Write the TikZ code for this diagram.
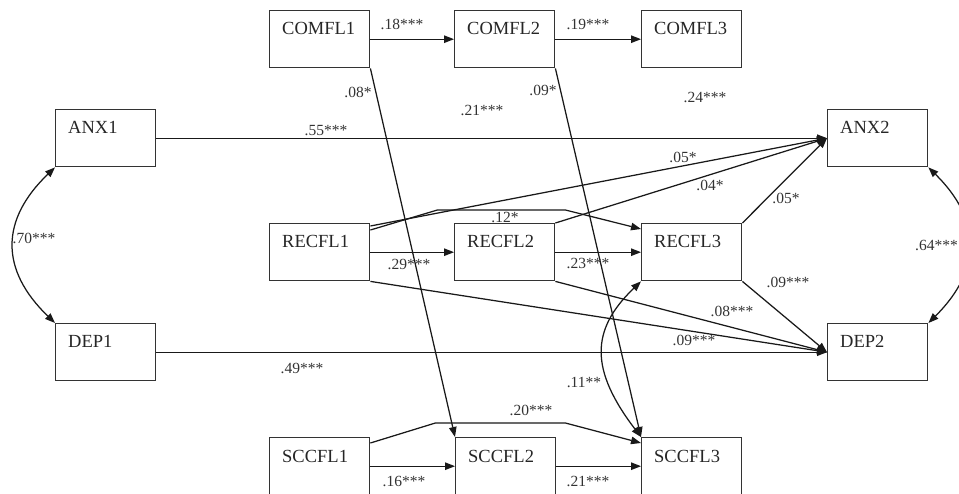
\documentclass[tikz,border=0pt]{standalone}
\usepackage{fontspec}
\setmainfont{Liberation Serif}
\usetikzlibrary{arrows.meta}
\newcommand\pbox[4]{\node[box] (#1) at (#2,#3) {};
  \node[lbl] (#1t) at ([shift={(13,25)}]#1.north west) {#4};}
\begin{document}
\begin{tikzpicture}[x=1pt,y=-1pt,
  box/.style={draw=black!80, line width=1.4pt, minimum width=100pt, minimum height=57pt, inner sep=0pt, anchor=north west},
  lbl/.style={font=\fontsize{18.5}{18.5}\selectfont, anchor=base west, inner sep=0pt, text=black!85},
  coef/.style={font=\fontsize{15.5}{15.5}\selectfont, inner sep=0pt, text=black!80},
  ln/.style={line width=1.25pt, draw=black!90},
  arr/.style={ln, -{Triangle[length=10pt,width=7.5pt]}},
  biarr/.style={ln, {Triangle[length=10pt,width=7.5pt]}-{Triangle[length=10pt,width=7.5pt]}}
]
\useasboundingbox (0,0) rectangle (959,494);
\pbox{comfl1}{269}{10}{COMFL1}
\pbox{comfl2}{454}{10}{COMFL2}
\pbox{comfl3}{641}{10}{COMFL3}
\pbox{anx1}{55}{109}{ANX1}
\pbox{anx2}{827}{109}{ANX2}
\pbox{recfl1}{269}{223}{RECFL1}
\pbox{recfl2}{454}{223}{RECFL2}
\pbox{recfl3}{641}{223}{RECFL3}
\pbox{dep1}{55}{323}{DEP1}
\pbox{dep2}{827}{323}{DEP2}
\pbox{sccfl1}{269}{437}{SCCFL1}
\pbox{sccfl2}{455}{437}{SCCFL2}
\pbox{sccfl3}{641}{437}{SCCFL3}

% connectors
\draw[arr] (comfl1.east) -- (comfl2.west);
\draw[arr] (comfl2.east) -- (comfl3.west);
\draw[arr] (comfl1.south east) -- (sccfl2.north west);
\draw[arr] (comfl2.south east) -- (sccfl3.north west);
\draw[arr] (anx1.east) -- (anx2.west);
\draw[arr] ([yshift=-3pt]recfl1.north east) -- (anx2.west);
\draw[arr] ([yshift=-7pt]recfl1.north east) -- ++(67,-20) -- ++(128,0) -- ([yshift=-6pt]recfl3.north west);
\draw[arr] (recfl2.north east) -- (anx2.west);
\draw[arr] (recfl3.north east) -- (anx2.west);
\draw[arr] (recfl1.east) -- (recfl2.west);
\draw[arr] (recfl2.east) -- (recfl3.west);
\draw[arr] (recfl1.south east) -- (dep2.west);
\draw[arr] (recfl2.south east) -- (dep2.west);
\draw[arr] (recfl3.south east) -- (dep2.west);
\draw[arr] (dep1.east) -- (dep2.west);
\draw[arr] (sccfl1.east) -- (sccfl2.west);
\draw[arr] (sccfl2.east) -- (sccfl3.west);
\draw[arr] ([yshift=-6pt]sccfl1.north east) -- ++(65,-20) -- ++(130,0) -- ([yshift=-6pt]sccfl3.north west);
\draw[biarr] (sccfl3.north west) .. controls (590,370) and (590,330) .. (recfl3.south west);
\draw[biarr] (anx1.south west) .. controls (0,220) and (0,270) .. (dep1.north west);
\draw[biarr] (anx2.south east) .. controls (982,220) and (982,270) .. (dep2.north east);

% coefficients
\node[coef] (c1) at (402,24) {.18***};
\node[coef] (c2) at (588,24) {.19***};
\node[coef] (c3) at (358,92) {.08*};
\node[coef] (c4) at (543,90) {.09*};
\node[coef] (c5) at (482,110) {.21***};
\node[coef] (c6) at (705,97) {.24***};
\node[coef] (c7) at (326,131) {.55***};
\node[coef] (c8) at (683,157) {.05*};
\node[coef] (c9) at (710,185) {.04*};
\node[coef] (c10) at (786,198) {.05*};
\node[coef] (c11) at (505,217) {.12*};
\node[coef] (c12) at (409,264) {.29***};
\node[coef] (c13) at (588,263) {.23***};
\node[coef] (c14) at (788,282) {.09***};
\node[coef] (c15) at (732,311) {.08***};
\node[coef] (c16) at (694,340) {.09***};
\node[coef] (c17) at (302,368) {.49***};
\node[coef] (c18) at (34,238) {.70***};
\node[coef,anchor=east] (c19) at (958,245) {.64***};
\node[coef] (c20) at (584,382) {.11**};
\node[coef] (c21) at (531,410) {.20***};
\node[coef] (c22) at (404,481) {.16***};
\node[coef] (c23) at (588,481) {.21***};
\end{tikzpicture}
\end{document}
